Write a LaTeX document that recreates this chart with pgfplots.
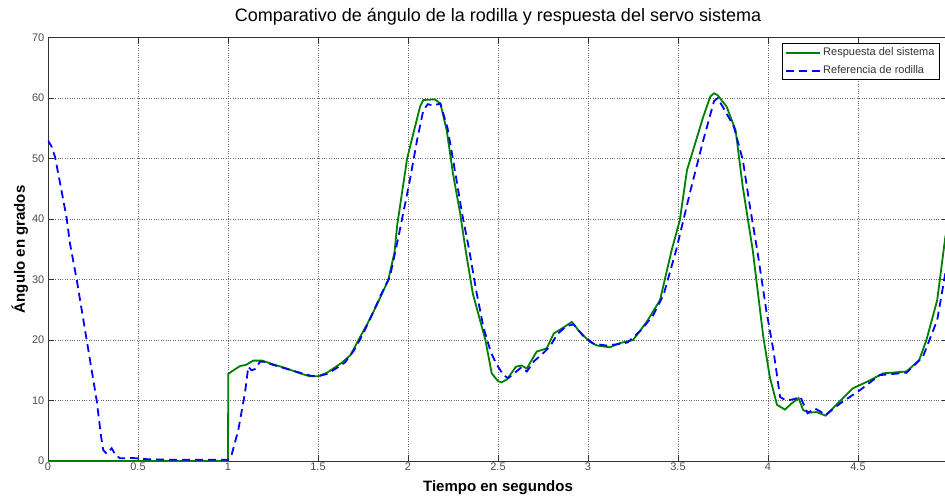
\documentclass[border=0pt]{standalone}
\usepackage{pgfplots}
\pgfplotsset{compat=1.18}
\usepackage{fontspec}
\setmainfont{Liberation Sans}
\definecolor{mgreen}{RGB}{0,128,0}
\definecolor{mblue}{RGB}{0,0,255}
\begin{document}
\begin{tikzpicture}
\begin{axis}[
  at={(0,0)}, anchor=south west,
  scale only axis, width=900pt, height=423.3pt,
  xmin=0, xmax=5, ymin=0, ymax=70,
  xtick={0,0.5,1,1.5,2,2.5,3,3.5,4,4.5},
  xticklabels={0,0.5,1,1.5,2,2.5,3,3.5,4,4.5},
  ytick={0,10,20,30,40,50,60,70},
  yticklabels={0,10,20,30,40,50,60,70},
  grid=major, grid style={dotted, black!60, line width=0.7pt},
  axis line style={black!80, line width=0.8pt},
  tick style={black!80, line width=0.8pt},
  major tick length=6pt, tick align=inside,
  /pgf/number format/assume math mode=true,
  ticklabel style={font=\fontsize{11}{13}\selectfont, text=black!70},
  xticklabel style={inner sep=2pt},
  yticklabel style={inner sep=3.5pt},
  title={Comparativo de ángulo de la rodilla y respuesta del servo sistema},
  title style={at={(axis description cs:0.5,1.0236)}, anchor=base, font=\fontsize{18}{21}\selectfont, inner sep=0pt},
  xlabel={Tiempo en segundos},
  xlabel style={at={(axis description cs:0.5,-0.0725)}, anchor=base, font=\fontsize{15}{18}\selectfont\bfseries, inner sep=0pt},
  ylabel={Ángulo en grados},
  ylabel style={at={(axis description cs:-0.0256,0.5)}, anchor=base, font=\fontsize{15}{18}\selectfont\bfseries, inner sep=0pt},
  legend cell align=left,
  legend image code/.code={\draw[#1] (0pt,0pt) -- (34pt,0pt);},
  legend style={at={(axis description cs:0.8156,0.9868)}, anchor=north west,
    font=\fontsize{11}{13}\selectfont, text=black!80, draw=black, line width=0.8pt,
    inner xsep=3pt, inner ysep=0pt, row sep=0pt,
    nodes={inner xsep=2pt, inner ysep=4pt, text height=8pt, text depth=2pt}},
]
\addplot[mgreen, line width=1.8pt] coordinates {
(0,0) (1.0,0) (1.0015,14.4) (1.03,15.0) (1.067,15.7) (1.10,15.9) (1.14,16.6) (1.19,16.6)
(1.25,16.0) (1.326,15.3) (1.40,14.5) (1.455,14.0) (1.5,14.0) (1.55,14.6) (1.585,15.3)
(1.63,16.2) (1.68,17.5) (1.73,20.3) (1.78,23.0) (1.83,26.0) (1.89,29.9) (1.925,34.5)
(1.94,39) (1.97,45) (1.995,50) (2.03,54.2) (2.067,58.6) (2.085,59.7) (2.15,59.8)
(2.18,59.1) (2.215,54.7) (2.25,47.5) (2.29,40.9) (2.32,34.9) (2.36,27.7) (2.43,20)
(2.465,14.5) (2.5,13.2) (2.52,13.0) (2.55,13.5) (2.60,15.6) (2.63,15.8) (2.66,15.3)
(2.715,18.1) (2.77,18.6) (2.81,21.1) (2.86,22.0) (2.91,23.0) (2.95,21.5) (3.01,19.7)
(3.05,19.1) (3.12,18.8) (3.178,19.5) (3.25,20.0) (3.326,23.0) (3.40,26.6) (3.465,34.9)
(3.51,39.8) (3.55,48.1) (3.59,52) (3.64,56.9) (3.68,60.3) (3.70,60.8) (3.72,60.5)
(3.77,58.6) (3.82,54.7) (3.86,45.3) (3.915,34.9) (3.974,20.5) (4.01,13.9) (4.05,9.3)
(4.094,8.5) (4.13,9.5) (4.17,10.4) (4.196,8.4) (4.233,8.0) (4.27,8.1) (4.32,7.5)
(4.38,9.3) (4.47,12.0) (4.55,13.1) (4.64,14.5) (4.77,14.8) (4.84,16.7) (4.88,20)
(4.94,26.6) (4.985,37) (5.0,39)
};
\addlegendentry{Respuesta del sistema}
\addplot[mblue, line width=1.8pt, dash pattern=on 8pt off 5pt] coordinates {
(0,53) (0.02,52) (0.039,50.3) (0.07,45.5) (0.104,40.1) (0.122,36) (0.16,29.9) (0.215,20)
(0.27,10.1) (0.295,4) (0.307,1.8) (0.326,1.2) (0.354,2.1) (0.375,1.0) (0.40,0.45)
(0.47,0.5) (0.55,0.3) (0.7,0.2) (1.0,0.2) (1.02,1.0) (1.057,5.1) (1.094,11.2) (1.113,15.6)
(1.13,15.0) (1.15,15.2) (1.178,16.4) (1.2,16.4) (1.25,15.9) (1.33,15.2) (1.40,14.6)
(1.46,14.1) (1.5,14.0) (1.55,14.4) (1.6,15.3) (1.65,16.3) (1.70,18.3) (1.75,21)
(1.80,24.2) (1.85,27.5) (1.90,30.5) (1.95,37.5) (2.01,46.4) (2.05,53) (2.085,58)
(2.11,59) (2.14,58.8) (2.18,59.1) (2.22,55) (2.27,46.4) (2.30,41) (2.34,34.9) (2.38,28)
(2.42,22) (2.46,18) (2.49,16.1) (2.53,14.2) (2.557,13.7) (2.59,14.5) (2.63,15.5)
(2.66,14.8) (2.70,16.5) (2.75,17.8) (2.79,19.0) (2.83,21.0) (2.88,22.3) (2.92,22.6)
(2.97,20.8) (3.03,19.4) (3.10,19.1) (3.16,19.3) (3.22,19.6) (3.29,21.5) (3.36,24)
(3.42,27.5) (3.49,34.9) (3.57,44.8) (3.64,53) (3.70,59.5) (3.72,60) (3.76,58) (3.81,55.3)
(3.86,49.8) (3.90,42) (3.94,34.9) (3.99,25) (4.03,18.3) (4.067,10.6) (4.10,10) (4.14,10.2)
(4.18,10.6) (4.22,7.9) (4.26,8.7) (4.29,8.2) (4.32,7.6) (4.40,9.5) (4.51,11.7) (4.62,14.2)
(4.77,14.6) (4.86,17.2) (4.94,23.3) (4.985,31) (5.0,33)
};
\addlegendentry{Referencia de rodilla}
\end{axis}
\pgfresetboundingbox
\useasboundingbox (-48pt,-35pt) rectangle (897pt,461pt);
\end{tikzpicture}
\end{document}
